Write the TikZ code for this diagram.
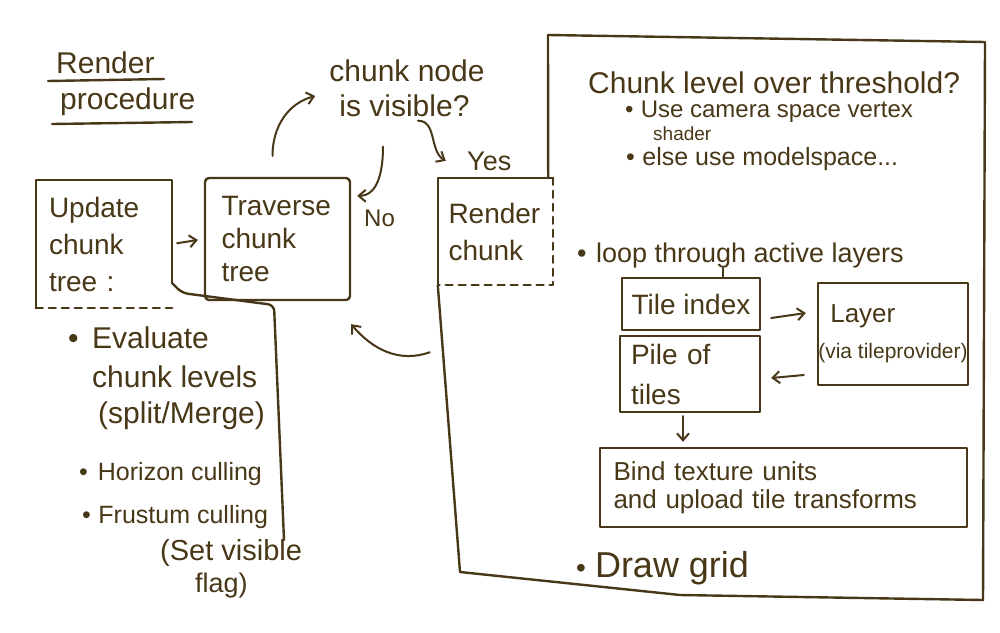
\documentclass[tikz,border=0pt]{standalone}
\usepackage{fontspec}
\setmainfont{Liberation Sans}
\usetikzlibrary{arrows.meta}
\definecolor{ink}{RGB}{72,56,24}
\begin{document}
\begin{tikzpicture}[x=1pt,y=-1pt,
  pen/.style={draw=ink, line width=2.4pt, line cap=round, line join=round},
  dashpen/.style={pen, dash pattern=on 7pt off 6pt},
  arr/.style={draw=ink, line width=2pt, line cap=round, -{Straight Barb[length=7pt,width=12pt]}},
  txt/.style={text=ink, inner sep=0pt},
  boxtext/.style={text=ink, align=left, inner sep=0pt},
  fs/.style 2 args={font=\fontsize{#1}{#2}\selectfont}]
\useasboundingbox (0,0) rectangle (1000,632);
\fill[white] (0,0) rectangle (1000,632);

% title
\node[txt, fs={30}{36}, anchor=base west] (title1) at (56,73) {Render};
\node[txt, fs={30}{36}, anchor=base west] (title2) at (60,109) {procedure};
\draw[pen] (48,81) -- (164,79);
\draw[pen] (52,124) -- (192,122);

% question
\node[boxtext, fs={30}{35}] (question) at (407,88) {chunk node\\\hspace*{10pt}is visible?};

% left boxes
\node[boxtext, fs={28}{37}, minimum width=136pt, minimum height=128pt, text width=110pt] (update) at (104,244) {Update\\chunk\\tree :};
\draw[pen] (update.south west) -- (update.north west) -- (update.north east) -- ([yshift=25pt]update.south east);
\draw[dashpen] (update.south west) -- (update.south east);
\coordinate (ext1) at ([yshift=25pt]update.south east);
\coordinate (ext2) at (182,293);
\coordinate (ext3) at (274,305);
\coordinate (ext4) at (284,540);
\draw[pen, rounded corners=6pt] (ext1) -- (ext2) -- (ext3) -- (ext4);

\node[pen, boxtext, rounded corners=4pt, fs={28}{33}, minimum width=145pt, minimum height=122pt, text width=112pt] (traverse) at (277.5,239) {Traverse\\chunk\\tree};

\node[boxtext, fs={28}{37}, minimum width=115pt, minimum height=107pt, text width=94pt] (render) at (495.5,231.5) {Render\\chunk};
\draw[pen] (render.south west) -- (render.north west) -- (render.north east);
\draw[dashpen] (render.north east) -- (render.south east) -- (render.south west);

% big region
\coordinate (bl) at (460,572);
\coordinate (bm) at (680,595);
\coordinate (br) at (983,600);
\coordinate (tr) at (985,42);
\coordinate (tl) at (548,35);
\draw[pen] (render.south west) -- (bl) -- (bm) -- (br) -- (tr) -- (tl) -- ([xshift=-5pt]render.north east);

% left list
\node[txt, fs={30}{34}, anchor=base west] (eval) at (68,348) {•\hspace{0.45em}Evaluate};
\node[txt, fs={30}{34}, anchor=base west] (levels) at (92,387) {chunk levels};
\node[txt, fs={30}{34}, anchor=base west] (split) at (98,423) {(split/Merge)};
\node[txt, fs={25}{30}, anchor=base west] (horizon) at (79,480) {•\hspace{0.4em}Horizon culling};
\node[txt, fs={25}{30}, anchor=base west] (frustum) at (82,523) {•\hspace{0.3em}Frustum culling};
\node[txt, fs={29}{34}, anchor=base west] (setvis) at (160,560) {(Set visible};
\node[txt, fs={27}{32}, anchor=base west] (flag) at (195,592) {flag)};

% right text
\node[txt, fs={30}{36}, anchor=base west] (threshold) at (588,93) {Chunk level over threshold?};
\node[txt, fs={24}{30}, anchor=base west] (camera) at (625,117) {•\hspace{0.3em}Use camera space vertex};
\node[txt, fs={19}{24}, anchor=base west] (shader) at (653,140) {shader};
\node[txt, fs={25}{30}, anchor=base west] (modelspace) at (626,165) {•\hspace{0.3em}else use modelspace...};
\node[txt, fs={27}{32}, anchor=base west] (loop) at (577,262) {•\hspace{0.35em}loop through active layers};

\node[pen, txt, fs={28}{33}, minimum width=138pt, minimum height=52pt] (tile) at (691,304) {Tile index};
\node[pen, boxtext, fs={28}{40}, minimum width=140pt, minimum height=76pt, text width=118pt] (pile) at (690,374) {Pile of\\tiles};
\node[pen, boxtext, fs={21}{36}, minimum width=150pt, minimum height=102pt] (layer) at (893,334) {\hspace*{12pt}{\fontsize{26}{30}\selectfont Layer}\\(via tileprovider)};
\node[pen, boxtext, fs={26}{28}, minimum width=367pt, minimum height=79pt, text width=340pt] (bind) at (783.5,487.5) {Bind texture units\\and upload tile transforms};
\node[txt, fs={36}{40}, anchor=base west] (grid) at (576,577) {{\fontsize{28}{28}\selectfont •}\hspace{0.25em}Draw grid};

% connectors
\draw[arr, shorten <=5pt, shorten >=6pt] (update.east) -- (traverse.west);
\draw[arr] ([xshift=-5pt,yshift=21pt]traverse.north) to[out=90,in=195] ([xshift=-14pt,yshift=-8pt]question.west);
\draw[arr] ([xshift=-24pt,yshift=-30pt]question.south) to[out=-90,in=0] ([xshift=6pt,yshift=-19pt]traverse.north east);
\node[txt, fs={24}{28}, anchor=base west] (nolab) at (364,226) {No};
\draw[arr] ([xshift=11pt,yshift=-4pt]question.south) to[out=0,in=150] ([xshift=8pt,yshift=17pt]render.north west);
\node[txt, fs={27}{30}, anchor=base west] (yeslab) at (467,170) {Yes};
\draw[arr] ([xshift=-8pt,yshift=-67pt]render.south west) to[out=200,in=-50] ([yshift=-23pt]traverse.south east);

\draw[pen] ([xshift=32pt]tile.north) -- ([xshift=32pt]tile.north |- loop.south);
\draw[arr] ([xshift=10pt,yshift=-14pt]tile.east) -- ([xshift=-11pt,yshift=21pt]layer.west);
\draw[arr] ([xshift=-13pt,yshift=-41pt]layer.west) -- ([xshift=10pt,yshift=-4pt]pile.east);
\coordinate (pb) at (pile.south |- bind.north);
\draw[arr] ([xshift=-7pt,yshift=-3pt]pile.south) -- ([xshift=-7pt,yshift=5pt]pb);
\end{tikzpicture}
\end{document}
